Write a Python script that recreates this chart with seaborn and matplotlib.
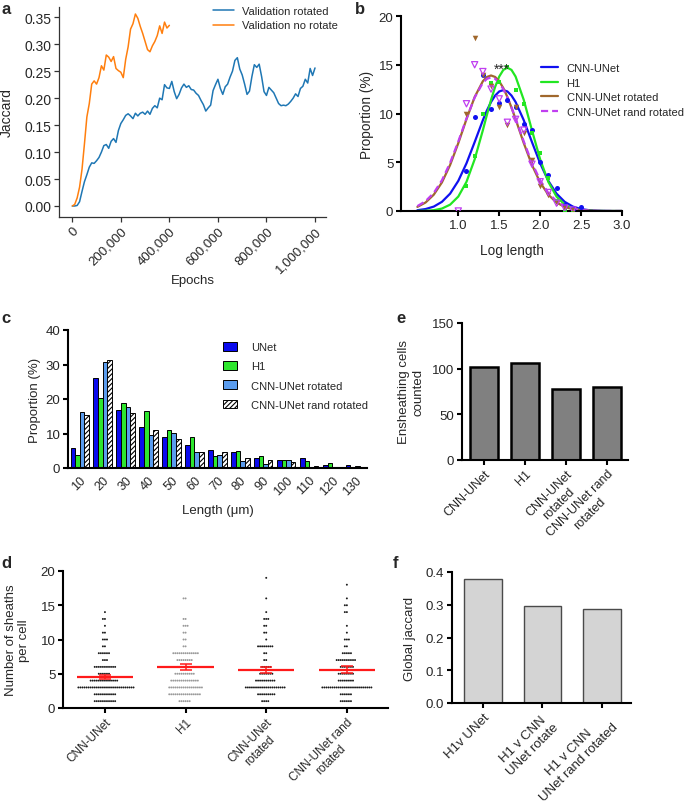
"""Recreate the six-panel segmentation comparison figure (panels a-f)."""

import matplotlib

matplotlib.use("Agg")

import matplotlib.pyplot as plt
import numpy as np
import pandas as pd
import seaborn as sns
from matplotlib.lines import Line2D
from matplotlib.patches import Patch

# ---- panel a: validation jaccard during training
EPOCHS_ROTATED = np.arange(0, 1_000_001, 10_000)
JACCARD_ROTATED = [
    0.000, 0.000, 0.001, 0.008, 0.027, 0.045, 0.058, 0.072, 0.080, 0.079,
    0.084, 0.090, 0.100, 0.112, 0.114, 0.107, 0.120, 0.125, 0.118, 0.140,
    0.153, 0.160, 0.168, 0.171, 0.167, 0.162, 0.172, 0.167, 0.172, 0.174,
    0.170, 0.176, 0.170, 0.181, 0.186, 0.182, 0.200, 0.197, 0.225, 0.219,
    0.218, 0.231, 0.212, 0.199, 0.207, 0.219, 0.226, 0.220, 0.223, 0.216,
    0.215, 0.209, 0.205, 0.196, 0.188, 0.176, 0.182, 0.187, 0.214, 0.225,
    0.235, 0.218, 0.207, 0.221, 0.226, 0.239, 0.250, 0.270, 0.275, 0.254,
    0.243, 0.226, 0.207, 0.213, 0.240, 0.262, 0.257, 0.263, 0.240, 0.212,
    0.205, 0.220, 0.215, 0.210, 0.200, 0.190, 0.186, 0.187, 0.186, 0.189,
    0.194, 0.200, 0.208, 0.203, 0.218, 0.222, 0.235, 0.228, 0.255, 0.242,
    0.256,
]
EPOCHS_NO_ROTATE = np.arange(0, 400_001, 10_000)
JACCARD_NO_ROTATE = [
    0.000, 0.003, 0.015, 0.035, 0.068, 0.115, 0.165, 0.190, 0.226, 0.232,
    0.226, 0.238, 0.260, 0.252, 0.280, 0.276, 0.268, 0.277, 0.255, 0.251,
    0.248, 0.238, 0.272, 0.295, 0.328, 0.338, 0.356, 0.348, 0.333, 0.320,
    0.305, 0.290, 0.286, 0.297, 0.305, 0.316, 0.334, 0.320, 0.341, 0.330,
    0.335,
]
A_RUNS = ["Validation rotated", "Validation no rotate"]
A_COLORS = ["#1f77b4", "#ff7f0e"]

# ---- panel b: log length distributions with gaussian fits
B_SERIES = ["CNN-UNet", "H1", "CNN-UNet rotated", "CNN-UNet rand rotated"]
B_COLORS = ["#1010f0", "#22e622", "#a0672c", "#c03ff0"]
FIT_X = [0.5, 0.6, 0.7, 0.8, 0.9, 1.0, 1.1, 1.2, 1.3, 1.35, 1.4, 1.45, 1.5, 1.55, 1.6,
         1.65, 1.7, 1.8, 1.9, 2.0, 2.1, 2.2, 2.3, 2.4, 2.5, 2.6, 2.7, 2.8, 2.9, 3.0]
FIT_UNET = [0.08, 0.20, 0.45, 0.94, 1.78, 3.09, 4.89, 7.07, 9.31, 10.32, 11.18, 11.84, 12.26,
            12.40, 12.26, 11.84, 11.18, 9.31, 7.07, 4.89, 3.09, 1.78, 0.94, 0.45, 0.20, 0.08,
            0.03, 0.01, 0.0, 0.0]
FIT_H1 = [0.01, 0.03, 0.08, 0.25, 0.65, 1.48, 2.99, 5.30, 8.28, 9.87, 11.39, 12.73, 13.79,
          14.47, 14.70, 14.47, 13.79, 11.39, 8.28, 5.30, 2.99, 1.48, 0.65, 0.25, 0.08, 0.03,
          0.01, 0.0, 0.0, 0.0]
FIT_ROT = [0.42, 0.87, 1.67, 2.93, 4.72, 6.96, 9.42, 11.69, 13.31, 13.75, 13.90, 13.75, 13.31,
           12.61, 11.69, 10.61, 9.42, 6.96, 4.72, 2.93, 1.67, 0.87, 0.42, 0.18, 0.07, 0.03,
           0.01, 0.0, 0.0, 0.0]
FIT_RAND = [0.50, 1.01, 1.85, 3.15, 4.94, 7.13, 9.49, 11.64, 13.15, 13.56, 13.70, 13.56, 13.15,
            12.50, 11.64, 10.61, 9.49, 7.13, 4.94, 3.15, 1.85, 1.01, 0.50, 0.23, 0.10, 0.04,
            0.01, 0.0, 0.0, 0.0]
PTS_UNET_X = [1.1, 1.2, 1.3, 1.4, 1.5, 1.6, 1.7, 1.8, 1.9, 2.0, 2.1, 2.2, 2.3, 2.4, 2.5]
PTS_UNET_Y = [4.1, 9.6, 13.9, 10.5, 11.1, 11.4, 10.7, 8.9, 8.3, 5.0, 3.7, 2.4, 0.6, 0.2, 0.4]
PTS_H1_X = [1.1, 1.2, 1.3, 1.4, 1.5, 1.6, 1.7, 1.8, 1.9, 2.0, 2.1, 2.2, 2.3, 2.4]
PTS_H1_Y = [2.6, 5.6, 10.0, 13.1, 13.2, 14.8, 12.4, 11.0, 8.0, 5.9, 3.4, 1.0, 0.1, 0.0]
PTS_ROT_X = [1.1, 1.2, 1.3, 1.4, 1.5, 1.6, 1.7, 1.8, 1.9, 2.0, 2.1, 2.2, 2.3, 2.4]
PTS_ROT_Y = [10.0, 17.7, 13.9, 12.8, 10.7, 8.8, 10.7, 8.0, 5.2, 2.6, 1.6, 0.8, 0.3, 0.1]
PTS_RAND_X = [1.0, 1.1, 1.2, 1.3, 1.4, 1.5, 1.6, 1.7, 1.8, 1.9, 2.0, 2.1, 2.2, 2.3, 2.4]
PTS_RAND_Y = [0.0, 11.0, 15.0, 14.3, 12.5, 11.5, 9.1, 9.4, 8.3, 4.8, 3.0, 1.9, 0.8, 0.3, 0.1]

# ---- panel c: sheath length histogram
C_LENGTHS = ["10", "20", "30", "40", "50", "60", "70", "80", "90", "100", "110", "120", "130"]
C_SERIES = ["UNet", "H1", "CNN-UNet rotated", "CNN-UNet rand rotated"]
C_COLORS = ["#0a0aee", "#2ee62e", "#5a9cee", "#ffffff"]
C_UNET = [5.8, 26.0, 16.8, 12.0, 8.9, 6.7, 5.1, 4.7, 3.0, 2.2, 2.8, 0.9, 0.8]
C_H1 = [3.8, 20.4, 18.8, 16.5, 11.1, 9.0, 3.6, 4.8, 3.6, 2.2, 2.0, 1.4, 0.4]
C_ROT = [16.1, 30.7, 17.6, 9.5, 10.1, 4.5, 3.9, 2.1, 1.3, 2.3, 0.2, 0.4, 0.7]
C_RAND = [15.3, 31.4, 15.8, 11.1, 8.3, 4.7, 4.7, 2.8, 2.3, 1.7, 0.7, 0.3, 0.4]

# ---- panel d: sheaths per cell (value levels and how many cells sit at each)
D_GROUPS = ["CNN-UNet", "H1", "CNN-UNet\nrotated", "CNN-UNet rand\nrotated"]
D_COLORS = ["#1a1a1a", "#9a9a9a", "#1a1a1a", "#1a1a1a"]
D_UNET_LEVELS = [1, 2, 3, 4, 5, 6, 7, 8, 9, 10, 11, 12, 13, 14]
D_UNET_COUNTS = [11, 11, 28, 14, 6, 11, 3, 6, 2, 3, 2, 1, 2, 1]
D_H1_LEVELS = [1, 2, 3, 4, 5, 6, 7, 8, 9, 10, 11, 12, 13, 16]
D_H1_COUNTS = [6, 16, 17, 14, 10, 9, 8, 13, 2, 2, 2, 3, 2, 2]
D_ROT_LEVELS = [1, 2, 3, 4, 5, 6, 7, 8, 9, 10, 11, 12, 13, 14, 16, 19]
D_ROT_COUNTS = [4, 9, 20, 10, 7, 5, 2, 2, 8, 1, 2, 2, 3, 1, 1, 1]
D_RAND_LEVELS = [1, 2, 3, 4, 5, 6, 7, 8, 9, 10, 11, 12, 14, 15, 16, 18]
D_RAND_COUNTS = [6, 6, 25, 8, 8, 7, 10, 5, 2, 3, 1, 1, 2, 2, 1, 1]
D_MEANS = [4.52, 6.05, 5.54, 5.62]
D_SEMS = [0.33, 0.44, 0.44, 0.45]

# ---- panel e: cells counted
E_GROUPS = ["CNN-UNet", "H1", "CNN-UNet\nrotated", "CNN-UNet rand\nrotated"]
E_COUNTS = [102, 106, 78, 80]

# ---- panel f: global jaccard against H1
F_GROUPS = ["H1v UNet", "H1 v CNN\nUNet rotate", "H1 v CNN\nUNet rand rotated"]
F_VALUES = [0.378, 0.296, 0.286]

W_PX, H_PX = 685, 803

sns.set_theme(style="ticks")
plt.rcParams["font.family"] = ["Liberation Sans", "DejaVu Sans"]
plt.rcParams["hatch.linewidth"] = 0.8

fig = plt.figure(figsize=(W_PX / 100, H_PX / 100), dpi=100)


def place_axes(left, top, right, bottom):
    return fig.add_axes([left / W_PX, 1 - bottom / H_PX, (right - left) / W_PX, (bottom - top) / H_PX])


def style_axes(ax, width=1.4, color="black", size=9.5):
    sns.despine(ax=ax)
    for side in ("left", "bottom"):
        ax.spines[side].set_linewidth(width)
        ax.spines[side].set_color(color)
    ax.tick_params(labelsize=size, length=3.5, width=width, color=color, pad=2)


def rotated_ticks(ax, labels, size=8):
    ax.set_xticks(range(len(labels)))
    ax.set_xticklabels(labels, rotation=45, ha="right", rotation_mode="anchor",
                       multialignment="center", fontsize=size)


def place_ylabel(ax, text, x, size):
    ax.set_ylabel(text, fontsize=size)
    ax.yaxis.set_label_coords(x, 0.5)
    ax.yaxis.label.set_va("center")


def place_xlabel(ax, text, y, size):
    ax.set_xlabel(text, fontsize=size)
    ax.xaxis.set_label_coords(0.5, y)
    ax.xaxis.label.set_va("top")


def panel_letter(x, y, letter):
    fig.text(x / W_PX, 1 - y / H_PX, letter, fontsize=12, fontweight="bold", va="top", ha="left")


# ---------------- a
ax_a = place_axes(59, 8, 326, 218)
df_a = pd.concat([
    pd.DataFrame({"epoch": EPOCHS_ROTATED, "jaccard": JACCARD_ROTATED, "run": A_RUNS[0]}),
    pd.DataFrame({"epoch": EPOCHS_NO_ROTATE, "jaccard": JACCARD_NO_ROTATE, "run": A_RUNS[1]}),
])
sns.lineplot(data=df_a, x="epoch", y="jaccard", hue="run", palette=A_COLORS, linewidth=1.1,
             errorbar=None, ax=ax_a)
handles, labels = ax_a.get_legend_handles_labels()
ax_a.legend(handles, labels, loc="upper left", bbox_to_anchor=(213 / W_PX, 1 - 7 / H_PX),
            bbox_transform=fig.transFigure, frameon=False, fontsize=8, handlelength=1.9,
            handletextpad=0.7, labelspacing=0.4, borderpad=0, borderaxespad=0)
style_axes(ax_a, width=0.9, color="#333333", size=10)
ax_a.set_xlim(-54_800, 1_045_300)
ax_a.set_ylim(-0.0204, 0.369)
ax_a.set_yticks(np.arange(0, 0.351, 0.05))
ax_a.set_yticklabels([f"{v:.2f}" for v in np.arange(0, 0.351, 0.05)])
a_ticks = list(range(0, 1_000_001, 200_000))
ax_a.set_xticks(a_ticks)
ax_a.set_xticklabels([f"{t:,}" for t in a_ticks], rotation=45, ha="right",
                     rotation_mode="anchor", fontsize=9.5)
place_xlabel(ax_a, "Epochs", -0.27, 9.5)
place_ylabel(ax_a, "Jaccard", -0.195, 10)

# ---------------- b
ax_b = place_axes(401, 17, 622, 212)
fits = [FIT_UNET, FIT_H1, FIT_ROT, FIT_RAND]
b_styles = ["-", "-", "-", (0, (3.2, 1.8))]
for fit, color, style in zip(fits, B_COLORS, b_styles):
    sns.lineplot(x=FIT_X, y=fit, color=color, linewidth=1.6, linestyle=style, ax=ax_b)
points = [
    (PTS_UNET_X, PTS_UNET_Y, "o", 13),
    (PTS_H1_X, PTS_H1_Y, "s", 12),
    (PTS_ROT_X, PTS_ROT_Y, "v", 16),
    (PTS_RAND_X, PTS_RAND_Y, "v", 16),
]
for (px, py, marker, size), color in zip(points, B_COLORS):
    sns.scatterplot(x=px, y=py, marker=marker, color=color, s=size, linewidth=0, ax=ax_b, zorder=3)
rand_pts = ax_b.collections[-1]
rand_pts.set_facecolor("none")
rand_pts.set_edgecolor(B_COLORS[3])
rand_pts.set_linewidth(0.9)
rand_pts.set_sizes([20])
ax_b.text(1.53, 14.6, "***", ha="center", va="center", fontsize=10)
style_axes(ax_b, width=1.5, size=9.5)
ax_b.set_xlim(0.3, 3.0)
ax_b.set_ylim(0, 20)
ax_b.set_xticks([1.0, 1.5, 2.0, 2.5, 3.0])
ax_b.set_xticklabels(["1.0", "1.5", "2.0", "2.5", "3.0"])
ax_b.set_yticks([0, 5, 10, 15, 20])
place_xlabel(ax_b, "Log length", -0.165, 9.8)
place_ylabel(ax_b, "Proportion (%)", -0.155, 9.8)
b_handles = [Line2D([], [], color=c, lw=1.6, ls=s) for c, s in zip(B_COLORS, b_styles)]
ax_b.legend(b_handles, B_SERIES, loc="upper left", bbox_to_anchor=(541 / W_PX, 1 - 64 / H_PX),
            bbox_transform=fig.transFigure, frameon=False, fontsize=8, handlelength=1.5,
            handletextpad=0.8, labelspacing=0.42, borderpad=0, borderaxespad=0)

# ---------------- c
ax_c = place_axes(68, 331, 367, 469)
df_c = pd.DataFrame({
    "length": C_LENGTHS * 4,
    "proportion": C_UNET + C_H1 + C_ROT + C_RAND,
    "series": np.repeat(C_SERIES, len(C_LENGTHS)),
})
sns.barplot(data=df_c, x="length", y="proportion", hue="series", palette=C_COLORS, saturation=1,
            edgecolor="black", linewidth=0.7, width=0.8, legend=False, ax=ax_c)
for bar in ax_c.containers[3]:
    bar.set_hatch("///////")
style_axes(ax_c, width=1.5, size=9.5)
ax_c.tick_params(axis="x", length=0, pad=4)
ax_c.set_xlim(-0.51, 12.52)
ax_c.set_ylim(0, 40)
ax_c.set_yticks([0, 10, 20, 30, 40])
rotated_ticks(ax_c, C_LENGTHS, size=9)
place_xlabel(ax_c, "Length (\u03bcm)", -0.26, 9.5)
place_ylabel(ax_c, "Proportion (%)", -0.11, 9.5)
c_handles = [Patch(facecolor=c, edgecolor="black", linewidth=0.7) for c in C_COLORS]
c_handles[3].set_hatch("///////")
ax_c.legend(c_handles, C_SERIES, loc="upper left", bbox_to_anchor=(223 / W_PX, 1 - 343 / H_PX),
            bbox_transform=fig.transFigure, frameon=False, fontsize=8, handlelength=1.25,
            handleheight=0.85, handletextpad=1.3, labelspacing=0.8, borderpad=0, borderaxespad=0)

# ---------------- d
ax_d = place_axes(63, 572, 388, 709)
d_levels = [D_UNET_LEVELS, D_H1_LEVELS, D_ROT_LEVELS, D_RAND_LEVELS]
d_counts = [D_UNET_COUNTS, D_H1_COUNTS, D_ROT_COUNTS, D_RAND_COUNTS]
df_d = pd.concat([
    pd.DataFrame({"group": g, "sheaths": np.repeat(lv, ct)})
    for g, lv, ct in zip(D_GROUPS, d_levels, d_counts)
])
sns.swarmplot(data=df_d, x="group", y="sheaths", hue="group", order=D_GROUPS,
              palette=dict(zip(D_GROUPS, D_COLORS)), size=1.4, legend=False, ax=ax_d)
for i, (mean, sem) in enumerate(zip(D_MEANS, D_SEMS)):
    ax_d.hlines(mean, i - 0.35, i + 0.35, color="#ff1a1a", linewidth=1.6, zorder=4)
    ax_d.errorbar(i, mean, yerr=sem, color="#ff1a1a", capsize=4.5, capthick=1.1,
                  elinewidth=1.1, zorder=4)
style_axes(ax_d, width=1.5, size=9.5)
ax_d.set_xlim(-0.52, 3.51)
ax_d.set_ylim(0, 20)
ax_d.set_yticks([0, 5, 10, 15, 20])
rotated_ticks(ax_d, D_GROUPS, size=8.5)
ax_d.set_xlabel("")
place_ylabel(ax_d, "Number of sheaths\nper cell", -0.14, 9.5)

# ---------------- e
ax_e = place_axes(462, 324, 628, 461)
sns.barplot(x=E_GROUPS, y=E_COUNTS, color="#808080", saturation=1, edgecolor="black",
            linewidth=1.8, width=0.69, ax=ax_e)
style_axes(ax_e, width=1.5, size=9.5)
ax_e.set_xlim(-0.54, 3.51)
ax_e.set_ylim(0, 150)
ax_e.set_yticks([0, 50, 100, 150])
rotated_ticks(ax_e, E_GROUPS, size=9)
place_ylabel(ax_e, "Ensheathing cells\ncounted", -0.305, 9.5)

# ---------------- f
ax_f = place_axes(452, 573, 631, 704)
sns.barplot(x=F_GROUPS, y=F_VALUES, color="#d4d4d4", saturation=1, edgecolor="#4a4a4a",
            linewidth=1.0, width=0.63, ax=ax_f)
style_axes(ax_f, width=1.5, size=9.5)
ax_f.set_xlim(-0.52, 2.49)
ax_f.set_ylim(0, 0.4)
ax_f.set_yticks([0.0, 0.1, 0.2, 0.3, 0.4])
ax_f.set_yticklabels(["0.0", "0.1", "0.2", "0.3", "0.4"])
rotated_ticks(ax_f, F_GROUPS, size=9.5)
place_ylabel(ax_f, "Global jaccard", -0.235, 9.5)

for x, y, letter in [(1, 2, "a"), (355, 2, "b"), (1, 311, "c"), (396, 311, "e"),
                     (1, 556, "d"), (393, 556, "f")]:
    panel_letter(x, y, letter)

fig.savefig("out.png", dpi=100)
